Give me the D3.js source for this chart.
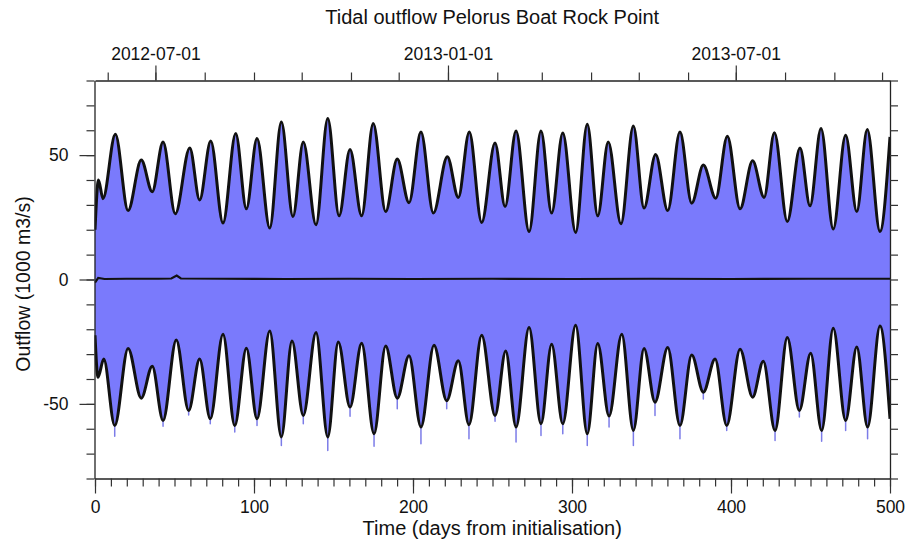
<!DOCTYPE html>
<html><head><meta charset="utf-8">
<script src="https://cdn.jsdelivr.net/npm/d3@7"></script>
<style>
body{margin:0;background:#fff}
text{font-family:"Liberation Sans",Arial,Helvetica,sans-serif;fill:#111}
</style>
</head><body>
<svg id="c" width="909" height="541"></svg>
<script>
// ---- data (days from initialisation, flow in 1000 m3/s) ----
const title = "Tidal outflow Pelorus Boat Rock Point";
const xLabel = "Time (days from initialisation)";
const yLabel = "Outflow (1000 m3/s)";
const initDate = "2012-05-24";
const xTicksMajor = [0, 100, 200, 300, 400, 500];
const yTicksMajor = [-50, 0, 50];
const dateTicksMajor = ["2012-07-01", "2013-01-01", "2013-07-01"];

const upperDays = [0,2.2,5.0,12.8,20.8,29.1,36.0,42.8,50.5,59.6,65.8,72.8,80.5,88.5,95.2,101.9,109.9,117.2,124.5,131.0,139.0,146.4,153.5,160.4,167.7,175.0,182.8,190.1,197.5,205.0,212.8,221.6,228.5,235.4,243.2,251.6,257.9,264.8,273.0,280.5,287.2,294.2,302.3,309.6,316.2,322.8,330.8,338.6,345.3,352.6,360.2,367.9,375.3,382.6,390.4,397.7,405.7,413.6,420.8,427.3,435.4,443.4,449.7,456.6,464.3,472.1,479.1,485.7,493.7,500];
const upperFlow = [20,40,32.5,58.4,27.7,48,35.3,55.3,26.4,52.9,32,55.7,22.7,58.7,28.4,56.7,20.7,63.3,25.3,55.3,22,64.7,25.6,52.3,25.6,62.7,27.3,48.4,30.9,59.3,26.7,49.3,33,59.3,22.9,54.9,29.3,59.7,19.3,59.7,26.7,58.9,18.9,62.4,25.6,55.3,22.4,61.7,28.7,50.3,27.7,59.3,30.7,46,32.7,57.6,28.4,47.7,33,59,23.3,52.9,29.6,60.7,20.3,58,27.3,60.3,19.3,57.3];

const lowerDays = [0,1.9,5.5,12.4,20.8,29.1,36.0,42.8,51.1,58.9,65.8,72.5,80.5,87.9,95.2,101.9,109.9,117.2,123.9,131.0,139.0,146.4,153.0,160.4,167.7,175.5,182.8,190.1,197.5,205.0,213.2,221.2,228.5,235.2,243.2,251.6,258.3,264.8,273.0,280.5,287.2,294.2,302.3,309.6,316.2,323.3,331.3,338.6,345.3,352.2,360.2,367.9,375.3,382.6,390.0,397.3,405.7,413.6,420.3,427.7,435.4,443.0,450.1,457.0,464.3,472.1,479.1,485.9,493.7,500];
const lowerFlow = [-22.4,-39.3,-32,-58.7,-27.7,-47.7,-34.9,-56.7,-24.3,-52.7,-32,-56,-22,-58.7,-27.6,-56,-20.7,-63.3,-24.7,-54.7,-21.3,-63.3,-25.1,-51.3,-25.6,-62,-26.7,-47.7,-30.7,-59.3,-26.4,-48.7,-32.7,-58.4,-22.4,-54.7,-28.7,-59.3,-19.3,-58,-26,-58,-18.4,-62,-25.7,-54.9,-22,-60.7,-27.7,-49.3,-27.3,-58.7,-30.4,-45.3,-32,-58.7,-28,-47.3,-32.9,-60.7,-23.3,-52.7,-29.6,-60.7,-19.6,-56.7,-27.1,-59.3,-18.7,-56];

const spikeDays = [12.4,42.8,58.9,72.5,87.9,101.9,117.2,131.0,146.4,160.4,175.5,190.1,205.0,221.2,235.2,251.6,264.8,280.5,294.2,309.6,323.3,338.6,352.2,367.9,382.6,397.3,427.7,443.0,457.0,472.1,485.9];
const spikeFlow = [-63,-59,-54.5,-58,-61.3,-58.7,-66.7,-58,-68.7,-55,-67,-52,-66,-52,-64,-57,-65.3,-62.7,-62,-66.7,-59.3,-66.7,-54.7,-64,-48,-60.7,-64.7,-55.3,-65,-60.7,-64];

const meanDays = [0,2,6,20,40,48,51.4,54,80,120,160,200,250,300,350,400,450,500];
const meanFlow = [-1.3,0.6,0.2,0.3,0.3,0.4,1.6,0.4,0.3,0.2,0.3,0.2,0.3,0.2,0.3,0.2,0.3,0.3];

// ---- layout ----
const L = 94.5, R = 890, T = 80.5, B = 478.5;
const svg = d3.select("#c");
const x = d3.scaleLinear().domain([0, 500]).range([L + 0.5, R]);
const y = d3.scaleLinear().domain([-80, 80]).range([B, T]);
const parse = d3.utcParse("%Y-%m-%d");
const t0 = parse(initDate);
const xt = d3.scaleUtc().domain([t0, d3.utcDay.offset(t0, 500)]).range([L + 0.5, R]);

svg.append("defs").append("clipPath").attr("id", "clip")
  .append("rect").attr("x", L).attr("y", T).attr("width", R - L).attr("height", B - T);
const plot = svg.append("g").attr("clip-path", "url(#clip)");

const upper = upperDays.map((d, i) => [d, upperFlow[i]]);
const lower = lowerDays.map((d, i) => [d, lowerFlow[i]]);
const mean = meanDays.map((d, i) => [d, meanFlow[i]]);

const fill = "#7a7afc";
const areaGen = d3.area().x(d => x(d[0])).y0(y(0)).y1(d => y(d[1])).curve(d3.curveMonotoneX);
plot.append("path").attr("d", areaGen(upper)).attr("fill", fill).attr("stroke", fill).attr("stroke-width", 0.6);
plot.append("path").attr("d", areaGen(lower)).attr("fill", fill).attr("stroke", fill).attr("stroke-width", 0.6);

// blue spikes beyond the lower envelope
plot.selectAll("line.spike").data(spikeDays).join("line")
  .attr("class", "spike")
  .attr("x1", d => x(d)).attr("x2", d => x(d))
  .attr("y1", (d) => {
    let best = lower[0];
    lower.forEach(p => { if (Math.abs(p[0] - d) < Math.abs(best[0] - d)) best = p; });
    return y(best[1]);
  })
  .attr("y2", (d, i) => y(spikeFlow[i]))
  .attr("stroke", "#7c7ce8").attr("stroke-width", 1.5).attr("stroke-linecap", "round");

const lineGen = d3.line().x(d => x(d[0])).y(d => y(d[1])).curve(d3.curveMonotoneX);
plot.append("path").attr("d", lineGen(upper)).attr("fill", "none").attr("stroke", "#111").attr("stroke-width", 3).attr("stroke-linejoin", "round");
plot.append("path").attr("d", lineGen(lower)).attr("fill", "none").attr("stroke", "#111").attr("stroke-width", 3).attr("stroke-linejoin", "round");
plot.append("path").attr("d", d3.line().x(d => x(d[0])).y(d => y(d[1]))(mean)).attr("fill", "none").attr("stroke", "#111").attr("stroke-width", 2.2);

// ---- axes ----
const fs = "17.5px";
const plain = d => String(d);
function style(g) {
  g.select(".domain").attr("stroke", "#222").attr("stroke-width", 1.3);
  g.selectAll(".tick line").attr("stroke", "#333").attr("stroke-width", 1.2);
  g.selectAll("text").style("font-size", fs).attr("fill", "#111");
}
// left
svg.append("g").attr("transform", `translate(${L},0)`)
  .call(d3.axisLeft(y).tickValues(d3.range(-80, 81, 10)).tickSize(8).tickFormat("").tickSizeOuter(0)).call(style);
svg.append("g").attr("transform", `translate(${L},0)`)
  .call(d3.axisLeft(y).tickValues(yTicksMajor).tickSize(15).tickPadding(11).tickFormat(plain).tickSizeOuter(0)).call(style)
  .call(g => g.select(".domain").remove());
// right
svg.append("g").attr("transform", `translate(${R},0)`)
  .call(d3.axisRight(y).tickValues(d3.range(-80, 81, 10)).tickSize(8).tickFormat("").tickSizeOuter(0)).call(style);
// bottom
svg.append("g").attr("transform", `translate(0,${B})`)
  .call(d3.axisBottom(x).tickValues(d3.range(0, 501, 10)).tickSize(8).tickFormat("").tickSizeOuter(0)).call(style);
svg.append("g").attr("transform", `translate(0,${B})`)
  .call(d3.axisBottom(x).tickValues(xTicksMajor).tickSize(15).tickPadding(7).tickFormat(plain).tickSizeOuter(0)).call(style)
  .call(g => g.select(".domain").remove());
// top (dates)
svg.append("g").attr("transform", `translate(0,${T})`)
  .call(d3.axisTop(xt).ticks(d3.utcMonth.every(1)).tickSize(8).tickFormat("").tickSizeOuter(0)).call(style);
svg.append("g").attr("transform", `translate(0,${T})`)
  .call(d3.axisTop(xt).tickValues(dateTicksMajor.map(parse)).tickSize(15).tickPadding(5.5)
    .tickFormat(d3.utcFormat("%Y-%m-%d")).tickSizeOuter(0)).call(style)
  .call(g => g.select(".domain").remove());

// ---- titles ----
svg.append("text").attr("x", (L + R) / 2).attr("y", 24).attr("text-anchor", "middle")
  .style("font-size", "20px").text(title);
svg.append("text").attr("x", (L + R) / 2).attr("y", 535).attr("text-anchor", "middle")
  .style("font-size", "20px").text(xLabel);
svg.append("text").attr("transform", "translate(30,284) rotate(-90)").attr("text-anchor", "middle")
  .style("font-size", "19.5px").text(yLabel);
</script>
</body></html>
